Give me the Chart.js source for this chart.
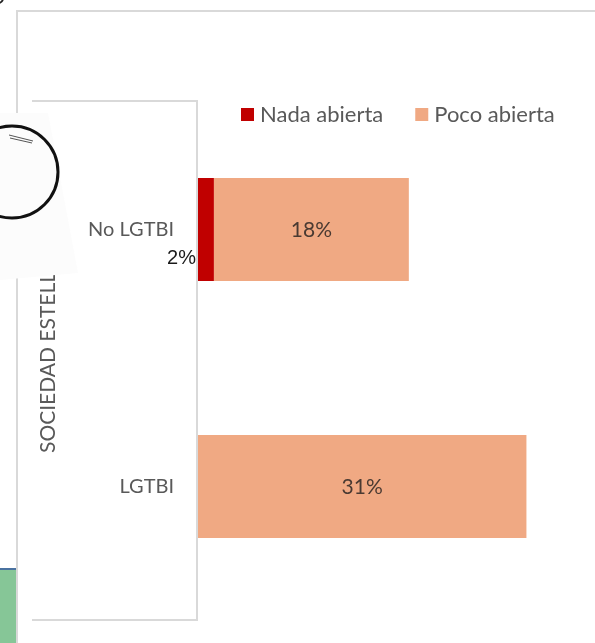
<!DOCTYPE html>
<html>
<head>
<meta charset="utf-8">
<script src="https://cdn.jsdelivr.net/npm/chart.js@4.4.1/dist/chart.umd.min.js"></script>
<style>
  html, body { margin: 0; padding: 0; background: #ffffff; }
  #wrap { width: 595px; height: 643px; position: relative; }
</style>
</head>
<body>
<div id="wrap"><canvas id="chart" width="595" height="643"></canvas></div>
<script>
// data
const categories = ['No LGTBI', 'LGTBI'];
const seriesNames = ['Nada abierta', 'Poco abierta'];
const nadaAbierta = [1.5, 0];
const pocoAbierta = [18.4, 31];
const groupLabel = 'SOCIEDAD ESTELLA';

const RED = '#C00000';
const ORANGE = '#F0A983';
const GREY_TEXT = '#595959';
const FRAME = '#d9d9d9';
const FONT = 'Lato, "Open Sans", sans-serif';

const ctx = document.getElementById('chart').getContext('2d');

function pct(v) {
    return Math.round(v) + '%';
}

// frames, side decorations
const backdrop = {
    id: 'backdrop',
    beforeDraw(chart) {
        const c = chart.ctx;
        c.save();
        c.fillStyle = '#ffffff';
        c.fillRect(0, 0, chart.width, chart.height);

        // outer frame
        c.strokeStyle = FRAME;
        c.lineWidth = 2;
        c.beginPath();
        c.moveTo(17, 643);
        c.lineTo(17, 11);
        c.lineTo(595, 11);
        c.stroke();

        // green block bottom left
        c.fillStyle = '#86C697';
        c.fillRect(0, 570, 16, 73);
        c.fillStyle = '#4A72A0';
        c.fillRect(0, 568, 16, 2);

        // box around category labels
        c.strokeStyle = FRAME;
        c.lineWidth = 2;
        c.beginPath();
        c.moveTo(32, 101);
        c.lineTo(197, 101);
        c.lineTo(197, 620);
        c.lineTo(32, 620);
        c.stroke();
        c.restore();
    },
    afterDraw(chart) {
        const c = chart.ctx;
        c.save();

        // legend
        c.font = '22px ' + FONT;
        c.textBaseline = 'middle';
        c.textAlign = 'left';
        const colors = chart.data.datasets.map(d => d.backgroundColor);
        const names = chart.data.datasets.map(d => d.label);
        let lx = 241;
        const ly = 114;
        names.forEach((n, i) => {
            c.fillStyle = colors[i];
            c.fillRect(lx, ly - 6, 13, 13);
            c.fillStyle = GREY_TEXT;
            c.fillText(n, lx + 19, ly + 1);
            lx += 19 + c.measureText(n).width + 32;
        });

        // data labels
        chart.data.datasets.forEach((ds, di) => {
            const meta = chart.getDatasetMeta(di);
            meta.data.forEach((bar, i) => {
                const v = ds.data[i];
                if (!v) return;
                if (di === 0) {
                    c.font = '20px "Liberation Sans", Arial, sans-serif';
                    c.fillStyle = '#1a1a1a';
                    c.textAlign = 'right';
                    c.fillText(pct(v), bar.base - 2, bar.y + 29);
                } else {
                    c.font = '21px ' + FONT;
                    c.fillStyle = '#4a3a32';
                    c.textAlign = 'center';
                    c.fillText(pct(v), (bar.base + bar.x) / 2, bar.y + 1);
                }
            });
        });

        // rotated group label
        c.save();
        c.translate(55, 453);
        c.rotate(-Math.PI / 2);
        c.font = '21px ' + FONT;
        c.fillStyle = GREY_TEXT;
        c.textAlign = 'left';
        c.textBaseline = 'alphabetic';
        c.fillText(groupLabel, 0, 0);
        c.restore();

        // pasted circle picture covering the top of the label
        c.fillStyle = '#fcfcfc';
        c.beginPath();
        c.moveTo(0, 113);
        c.lineTo(48, 113);
        c.lineTo(78, 273);
        c.lineTo(0, 280);
        c.closePath();
        c.fill();

        c.strokeStyle = '#111111';
        c.lineWidth = 3;
        c.beginPath();
        c.arc(12, 172, 46, 0, Math.PI * 2);
        c.stroke();

        c.strokeStyle = '#555555';
        c.lineWidth = 1;
        c.beginPath();
        c.moveTo(9, 135); c.lineTo(33, 141);
        c.moveTo(10, 138); c.lineTo(32, 143);
        c.stroke();

        c.strokeStyle = '#222222';
        c.lineWidth = 2;
        c.beginPath();
        c.arc(-2, -2, 5, 0, Math.PI / 2);
        c.stroke();

        c.restore();
    }
};

new Chart(ctx, {
    type: 'bar',
    data: {
        labels: categories,
        datasets: [
            {
                label: seriesNames[0],
                data: nadaAbierta,
                backgroundColor: RED,
                borderWidth: 0,
                categoryPercentage: 1,
                barPercentage: 0.4
            },
            {
                label: seriesNames[1],
                data: pocoAbierta,
                backgroundColor: ORANGE,
                borderWidth: 0,
                categoryPercentage: 1,
                barPercentage: 0.4
            }
        ]
    },
    options: {
        indexAxis: 'y',
        responsive: false,
        animation: false,
        layout: {
            autoPadding: false,
            padding: { left: 0, top: 101, right: 5, bottom: 24 }
        },
        plugins: {
            legend: { display: false },
            tooltip: { enabled: false }
        },
        scales: {
            x: {
                display: false,
                stacked: true,
                min: 0,
                max: 37
            },
            y: {
                stacked: true,
                grid: { display: false },
                border: { display: false },
                ticks: {
                    padding: 16,
                    color: GREY_TEXT,
                    font: { family: FONT, size: 20 }
                },
                afterFit(scale) {
                    scale.width = 198;
                }
            }
        }
    },
    plugins: [backdrop]
});
</script>
</body>
</html>
